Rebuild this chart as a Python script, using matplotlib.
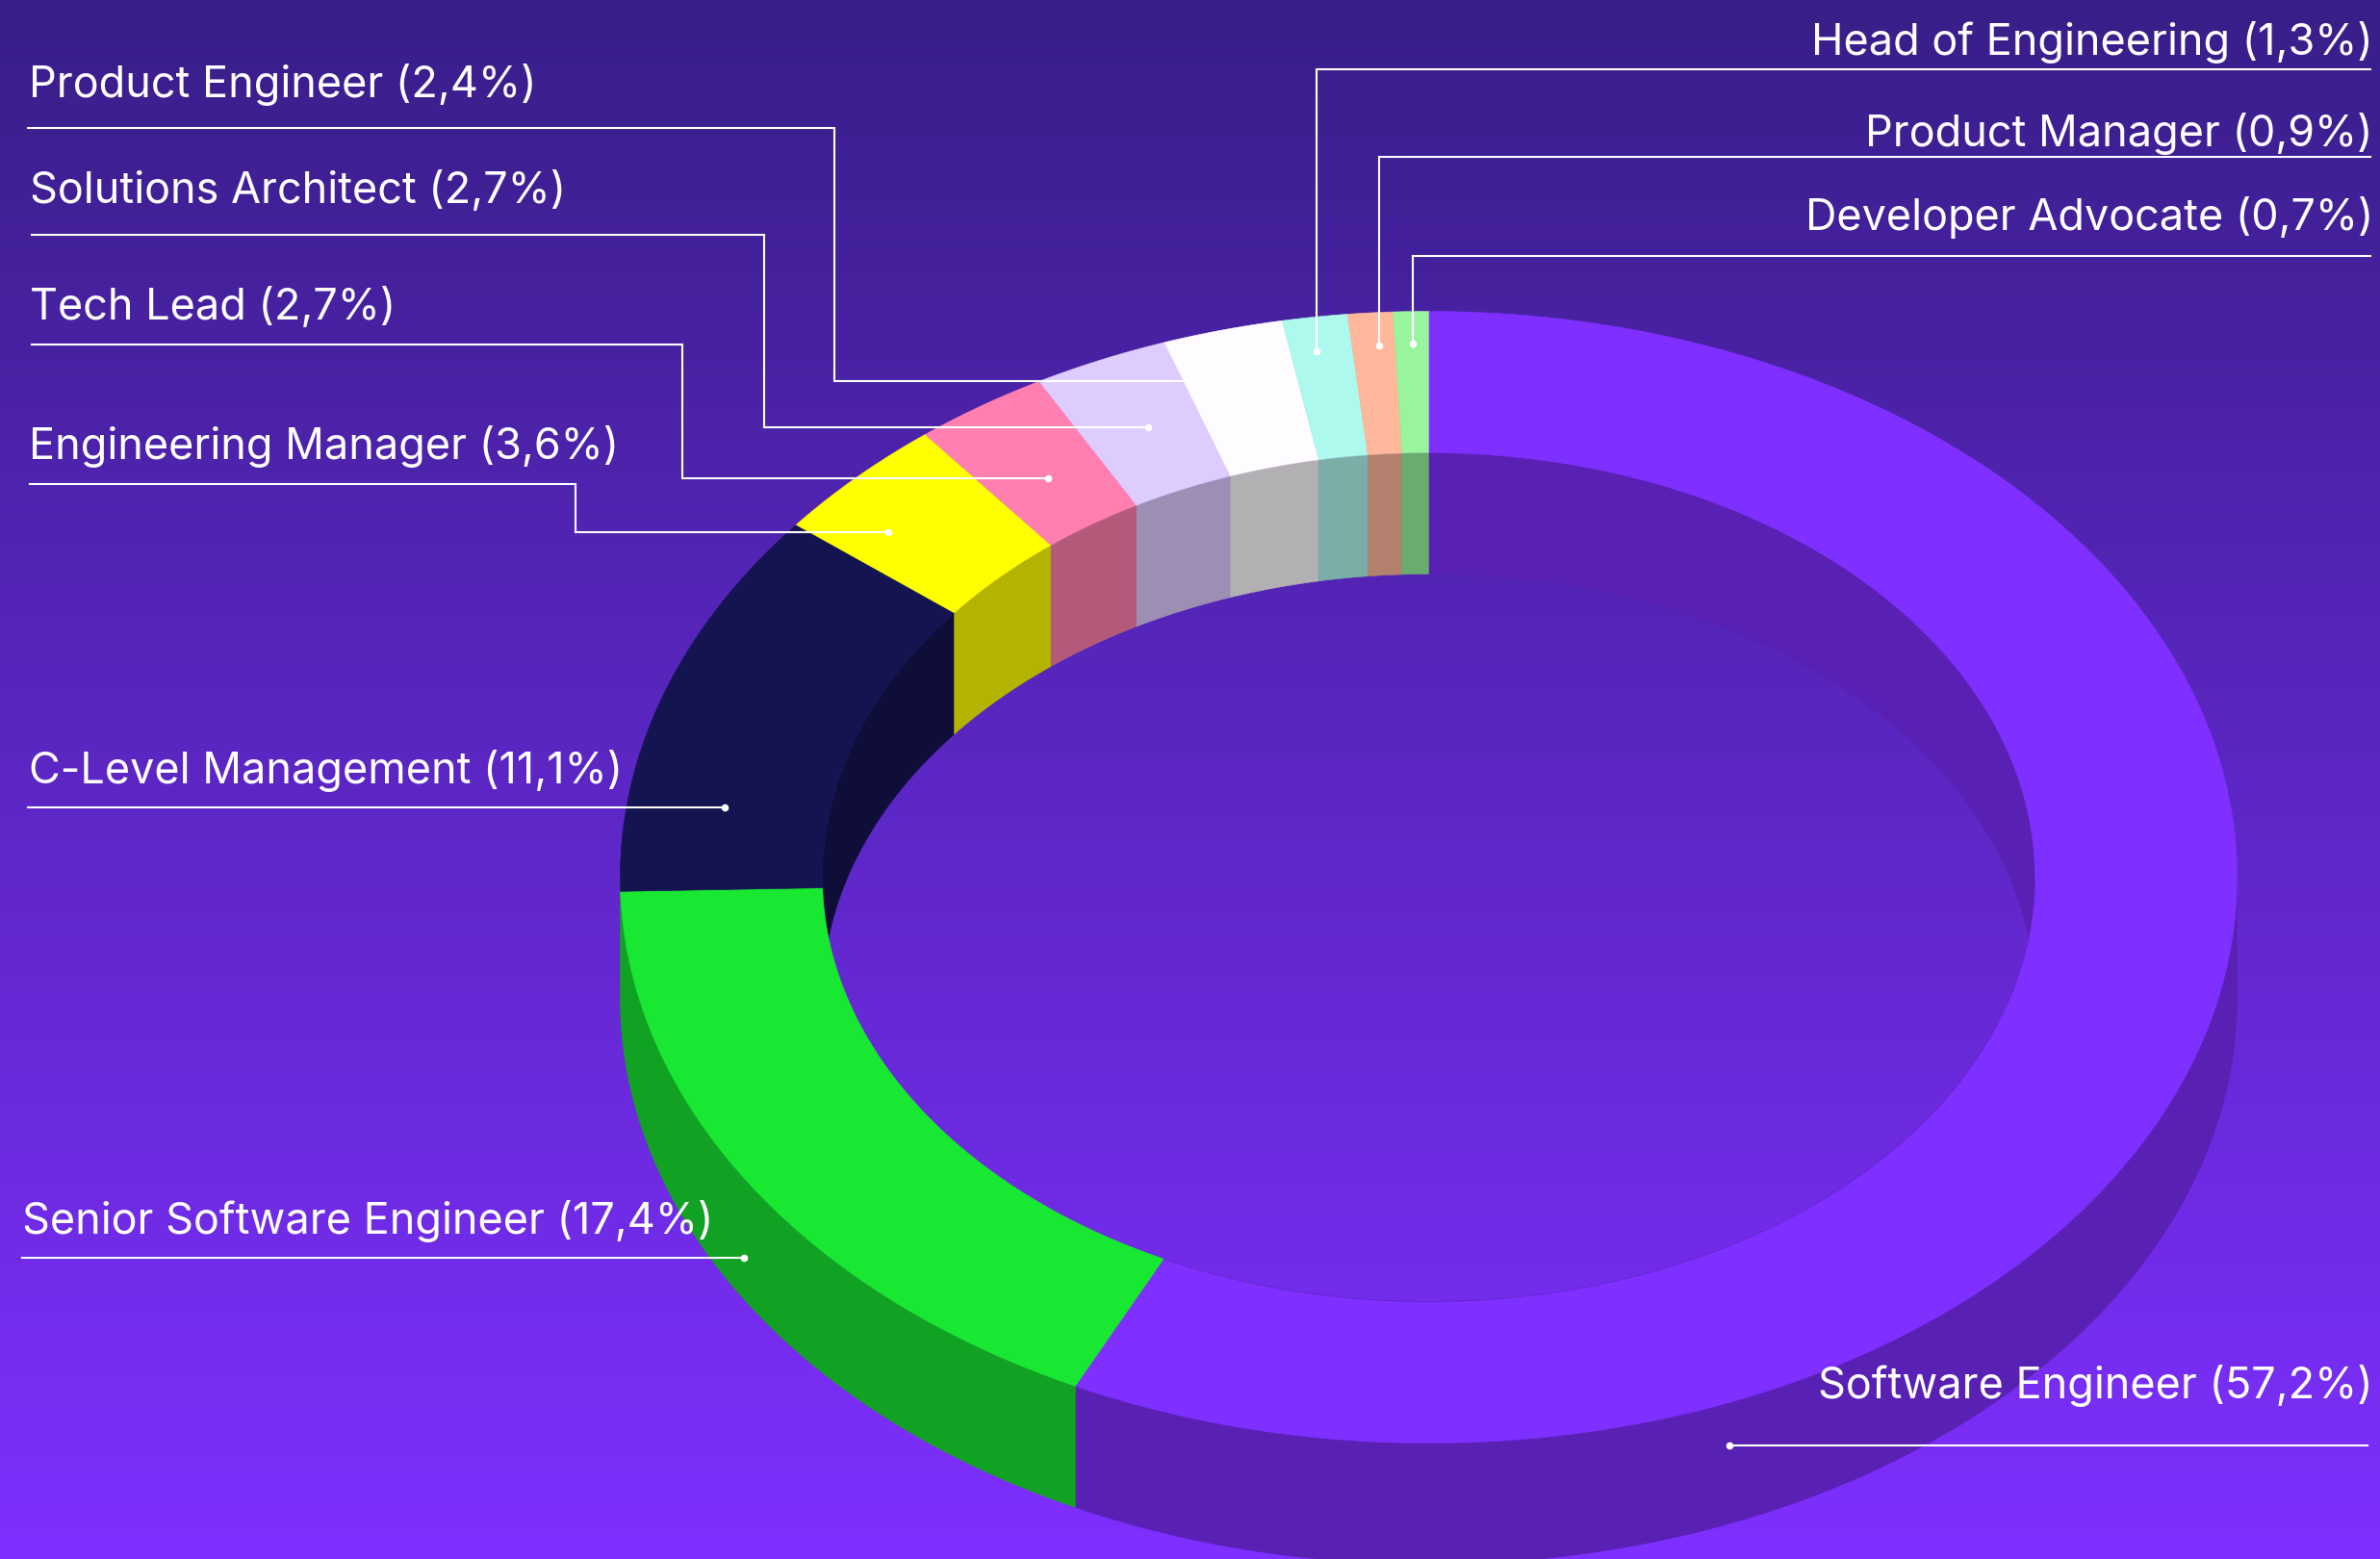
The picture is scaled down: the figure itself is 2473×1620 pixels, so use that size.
import numpy as np
import matplotlib
matplotlib.use("Agg")
import matplotlib.pyplot as plt
from matplotlib.colors import LinearSegmentedColormap, to_rgb
from matplotlib.patches import Polygon, Ellipse

# ---- data
categories = ["Software Engineer", "Senior Software Engineer", "C-Level Management",
              "Engineering Manager", "Tech Lead", "Solutions Architect",
              "Product Engineer", "Head of Engineering", "Product Manager",
              "Developer Advocate"]
shares = [57.2, 17.4, 11.1, 3.6, 2.7, 2.7, 2.4, 1.3, 0.9, 0.7]
colors = ["#7F2FFF", "#19E832", "#141450", "#FFFF00", "#FF80B0",
          "#DFCCFF", "#FEFCFF", "#AEF9EE", "#FFB89C", "#98F59E"]

# ---- layout (pixels)
W, H = 2473, 1620
CX, CY = 1484.5, 911.5
RX_OUT, RY_OUT = 840, 588
RX_IN, RY_IN = 630, 441
DEPTH = 126
SHADE = 0.7
FS = 45 * 0.72

# side, text x, baseline y, leader points
leaders = {
    "Software Engineer": ("r", 2466, 1453, [(2460, 1502), (1797, 1502)]),
    "Senior Software Engineer": ("l", 23.5, 1282, [(23, 1307), (773, 1307)]),
    "C-Level Management": ("l", 30.5, 814, [(29, 839), (753, 839)]),
    "Engineering Manager": ("l", 30.5, 477, [(31, 503), (598, 503), (598, 553), (923, 553)]),
    "Tech Lead": ("l", 31.5, 332, [(33, 358), (709, 358), (709, 497), (1089, 497)]),
    "Solutions Architect": ("l", 31.5, 211, [(33, 243.5), (794, 243.5), (794, 444), (1193, 444)]),
    "Product Engineer": ("l", 30.5, 101, [(29, 133), (867, 133), (867, 396), (1235, 396)]),
    "Head of Engineering": ("r", 2466, 57, [(2463, 72), (1368, 72), (1368, 365)]),
    "Product Manager": ("r", 2466, 152, [(2463, 163), (1433, 163), (1433, 359)]),
    "Developer Advocate": ("r", 2466, 239, [(2463, 266), (1468, 266), (1468, 357)]),
}

plt.rcParams["font.family"] = ["Inter", "DejaVu Sans"]
fig = plt.figure(figsize=(W / 100, H / 100), dpi=100)
ax = fig.add_axes([0, 0, 1, 1])
ax.set_xlim(0, W)
ax.set_ylim(H, 0)
ax.axis("off")

cmap = LinearSegmentedColormap.from_list("bg", ["#391E89", "#7F2FFF"])
ax.imshow(np.linspace(0, 1, 256)[:, None], cmap=cmap, extent=[0, W, H, 0],
          aspect="auto", zorder=0, interpolation="bilinear")


def ell(theta_deg, rx, ry, dz=0.0):
    t = np.radians(theta_deg)
    return np.column_stack([CX + rx * np.sin(t), CY - ry * np.cos(t) + dz])


def arc(a, b, n_per_deg=2):
    return np.linspace(a, b, max(int((b - a) * n_per_deg), 2))


def shade(c):
    return tuple(v * SHADE for v in to_rgb(c))


edges = np.concatenate([[0], np.cumsum(shares)]) / sum(shares) * 360

# outer wall (front half): a slice reaching the silhouette edge closes it
for a, b, c in zip(edges[:-1], edges[1:], colors):
    if a > 265:
        continue
    lo, hi = max(a, 90), 270 if b > 265 else min(b, 270)
    if hi > lo:
        th = arc(lo, hi)
        pts = np.vstack([ell(th, RX_OUT, RY_OUT), ell(th[::-1], RX_OUT, RY_OUT, DEPTH)])
        ax.add_patch(Polygon(pts, closed=True, fc=shade(c), ec=shade(c), lw=0.4, zorder=2))

# inner wall (back half), seen through the hole
hole = Ellipse((CX, CY), 2 * RX_IN, 2 * RY_IN, fc="none", ec="none", zorder=1)
ax.add_patch(hole)
for a, b, c in zip(edges[:-1], edges[1:], colors):
    for lo, hi in ((max(a, 0), min(b, 90)), (max(a, 270), min(b, 360))):
        if hi > lo:
            th = arc(lo, hi)
            pts = np.vstack([ell(th, RX_IN, RY_IN), ell(th[::-1], RX_IN, RY_IN, DEPTH)])
            p = Polygon(pts, closed=True, fc=shade(c), ec=shade(c), lw=0.4, zorder=3)
            ax.add_patch(p)
            p.set_clip_path(hole)

# top face
for a, b, c in zip(edges[:-1], edges[1:], colors):
    th = arc(a, b)
    pts = np.vstack([ell(th, RX_OUT, RY_OUT), ell(th[::-1], RX_IN, RY_IN)])
    ax.add_patch(Polygon(pts, closed=True, fc=c, ec=c, lw=0.4, zorder=4))

# faint rim on the first slice where it meets the hole
rim = ell(arc(90, edges[1]), RX_IN, RY_IN)
ax.plot(rim[:, 0], rim[:, 1], color=shade(colors[0]), lw=0.6, alpha=0.7, zorder=4.5)

# leaders and labels
for name, v in zip(categories, shares):
    side, tx, ty, path = leaders[name]
    label = f"{name} ({v:.1f}%)".replace(".", ",")
    ax.text(tx, ty, label, color="white", fontsize=FS, va="baseline",
            ha="left" if side == "l" else "right", zorder=6)
    xs, ys = zip(*path)
    ax.plot(xs, ys, color="white", lw=1.5, solid_joinstyle="miter", zorder=5)
    ax.plot(xs[-1], ys[-1], "o", color="white", ms=5.5, mew=0, zorder=5)

fig.savefig("out.png", dpi=100)
